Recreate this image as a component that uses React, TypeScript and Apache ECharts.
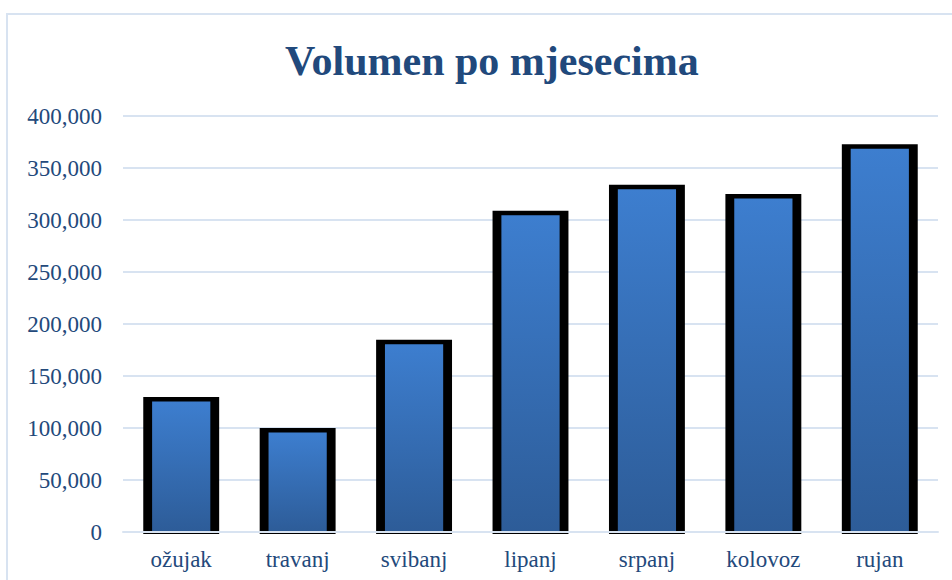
import React, { useEffect, useRef } from "react";
import * as echarts from "echarts";

const categories = ["ožujak", "travanj", "svibanj", "lipanj", "srpanj", "kolovoz", "rujan"];
const volumes = [128000, 98000, 183000, 307000, 332000, 323000, 371000];
const yTicks = { min: 0, max: 400000, interval: 50000 };
const titleText = "Volumen po mjesecima";

const FONT = '"Liberation Serif", "Times New Roman", serif';
const TEXT_COLOR = "#23497b";

export default function App() {
  const ref = useRef<HTMLDivElement>(null);
  useEffect(() => {
    document.body.style.margin = "0";
    if (!ref.current) return;
    const chart = echarts.init(ref.current, undefined, { renderer: "svg" });
    const gradient = new echarts.graphic.LinearGradient(0, 0, 0, 1, [
      { offset: 0, color: "#3d7ecf" },
      { offset: 1, color: "#2d5c98" },
    ]);
    chart.setOption({
      animation: false,
      backgroundColor: "#ffffff",
      title: {
        text: titleText,
        left: 280,
        top: 35,
        textStyle: { fontFamily: FONT, fontSize: 42, fontWeight: "bold", color: "#21497c" },
      },
      graphic: [
        {
          type: "rect",
          shape: { x: 7, y: 14, width: 980, height: 620 },
          style: { fill: "none", stroke: "#d8e3f1", lineWidth: 2 },
          z: -1,
        },
      ],
      grid: { left: 123, right: 14, top: 116, bottom: 48, containLabel: false },
      xAxis: {
        type: "category",
        data: categories,
        z: 10,
        axisLine: { show: true, lineStyle: { color: "#d8e3f1", width: 2 } },
        axisTick: { show: false },
        axisLabel: { fontFamily: FONT, fontSize: 23, color: TEXT_COLOR, margin: 16 },
      },
      yAxis: {
        type: "value",
        min: yTicks.min,
        max: yTicks.max,
        interval: yTicks.interval,
        axisLine: { show: false },
        axisTick: { show: false },
        splitLine: { lineStyle: { color: "#d8e3f1", width: 2 } },
        axisLabel: {
          fontFamily: FONT,
          fontSize: 23,
          color: TEXT_COLOR,
          margin: 21,
          formatter: (v: number) => v.toLocaleString("en-US"),
        },
      },
      series: [
        {
          type: "custom",
          data: volumes.map((v, i) => [i, v]),
          encode: { x: 0, y: 1 },
          renderItem: (params: any, api: any) => {
            const idx = api.value(0);
            const v = api.value(1);
            const top = api.coord([idx, v]);
            const base = api.coord([idx, 0]);
            const band = api.size([1, 0])[0];
            const outerW = band * 0.652;
            const innerW = band * 0.5;
            return {
              type: "group",
              children: [
                {
                  type: "rect",
                  shape: {
                    x: top[0] - outerW / 2,
                    y: top[1] - 2,
                    width: outerW,
                    height: base[1] + 2 - (top[1] - 2),
                  },
                  style: { fill: "#000000" },
                },
                {
                  type: "rect",
                  shape: {
                    x: top[0] - innerW / 2,
                    y: top[1] + 2.5,
                    width: innerW,
                    height: base[1] - top[1] - 2.5,
                  },
                  style: { fill: gradient },
                },
              ],
            };
          },
        },
      ],
    });
    return () => chart.dispose();
  }, []);
  return <div ref={ref} style={{ width: 952, height: 580 }} />;
}
